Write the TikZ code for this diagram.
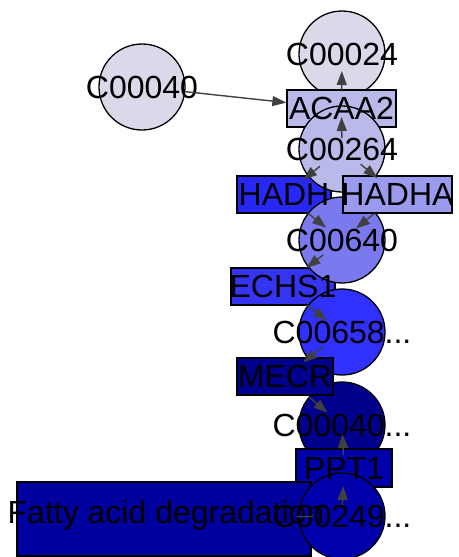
\documentclass[tikz,border=0pt]{standalone}
\usepackage{fontspec}
\setmainfont{Liberation Sans}
\usetikzlibrary{arrows.meta}
\definecolor{paleA}{HTML}{D9D9E9}
\definecolor{paleB}{HTML}{B9B9EA}
\definecolor{midA}{HTML}{9A9AEE}
\definecolor{midB}{HTML}{7A7AEE}
\definecolor{vivA}{HTML}{2828F5}
\definecolor{vivB}{HTML}{3434F2}
\definecolor{vivC}{HTML}{3030FF}
\definecolor{deepA}{HTML}{00008C}
\definecolor{deepB}{HTML}{0000AA}
\definecolor{deepC}{HTML}{00009E}
\definecolor{edgegray}{HTML}{404040}
\newcommand\trail{...}
\begin{document}
\begin{tikzpicture}[x=1pt,y=-1pt,
    met/.style={circle,draw,line width=1.3pt,minimum size=86pt,inner sep=0pt},
    enz/.style={rectangle,draw,line width=1.3pt,inner sep=0pt,minimum height=37pt},
    lbl/.style={font=\fontsize{32}{38}\selectfont,inner sep=0pt},
    rxn/.style={draw=edgegray,line width=1.4pt,-{Triangle[length=14pt,width=10pt]}}]
        \useasboundingbox (0,0) rectangle (458,557);
        % shapes, back to front
        \path
        (342,54) node[met,fill=paleA] (C00024) {}
        (341.5,108.5) node[enz,fill=paleB,minimum width=109pt] (ACAA2) {}
        (283,286.5) node[enz,fill=vivB,minimum width=104pt] (ECHS1) {}
        (284,194.5) node[enz,fill=vivA,minimum width=94pt] (HADH) {}
        (342,149) node[met,fill=paleB] (C00264) {}
        (342,240) node[met,fill=midB] (C00640) {}
        (397.5,194.5) node[enz,fill=midA,minimum width=109pt] (HADHA) {}
        (342,332) node[met,fill=vivC] (C00658) {}
        (342,425) node[met,fill=deepA] (C00040b) {}
        (285,376.5) node[enz,fill=deepA,minimum width=96pt] (MECR) {}
        (344,468) node[enz,fill=deepB,minimum width=96pt,minimum height=38pt] (PPT1) {}
        (164,519) node[enz,fill=deepC,minimum width=294pt,minimum height=74pt] (FAD) {}
        (342,516) node[met,fill=deepB] (C00249) {}
        (142,87) node[met,fill=paleA] (C00040a) {}
        ;
        % labels on top
        \foreach \n/\t in {C00024/C00024,ACAA2/ACAA2,ECHS1/ECHS1,HADH/HADH,C00264/C00264,
            C00640/C00640,HADHA/HADHA,C00658/C00658\trail,C00040b/C00040\trail,MECR/MECR,
            PPT1/PPT1,C00249/C00249\trail,C00040a/C00040}
        \node[lbl] (t\n) at (\n) {\t};
        \node[lbl,xshift=2pt,yshift=4pt] (tFAD) at (FAD) {Fatty acid degradation};
        % reactions
        \draw[rxn] (C00040a) -- (ACAA2);
        \foreach \s/\e/\a/\b in {ACAA2/C00024/18.5/17,C00264/ACAA2/11/8.5,C00264/HADH/28/24,
            C00264/HADHA/24/26,HADH/C00640/30/20,HADHA/C00640/30/18,C00640/ECHS1/24/30,
            ECHS1/C00658/30/19,C00658/MECR/24/23,MECR/C00040b/32/19,PPT1/C00040b/13/9,
            C00249/PPT1/11/18}
        \draw[rxn,shorten <=\a pt,shorten >=\b pt] (\s.center) -- (\e.center);
        \draw[draw=edgegray,line width=1.4pt,shorten <=133pt,shorten >=29pt] (FAD.center) -- (C00249.center);
    \end{tikzpicture}
\end{document}
